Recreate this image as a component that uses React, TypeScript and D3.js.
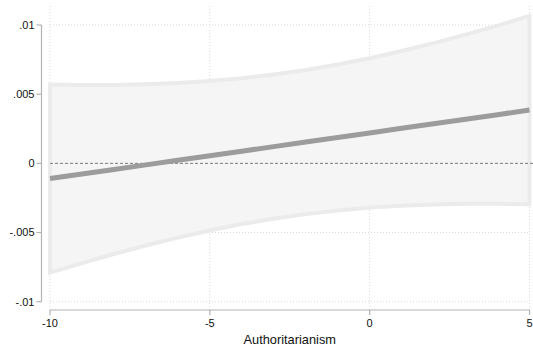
import React from "react";
import * as d3 from "d3";

const xValues = [-10, -9, -8, -7, -6, -5, -4, -3, -2, -1, 0, 1, 2, 3, 4, 5];
const fitted = [-0.0011, -0.00077, -0.00044, -0.00011, 0.00022, 0.00055, 0.00088, 0.00121, 0.00154, 0.00187, 0.0022, 0.00253, 0.00286, 0.00319, 0.00352, 0.00385];
const upper = [0.0057, 0.00567, 0.00567, 0.00572, 0.00581, 0.00595, 0.00615, 0.00642, 0.00675, 0.00714, 0.0076, 0.00812, 0.00869, 0.0093, 0.00996, 0.01065];
const lower = [-0.0079, -0.00721, -0.00655, -0.00594, -0.00537, -0.00485, -0.00439, -0.004, -0.00367, -0.0034, -0.0032, -0.00306, -0.00297, -0.00292, -0.00292, -0.00295];
const xTicks = [-10, -5, 0, 5];
const yTicks = [0.01, 0.005, 0, -0.005, -0.01];
const yTickLabels = [".01", ".005", "0", "-.005", "-.01"];
const xTitle = "Authoritarianism";

export default function App() {
  const W = 533, H = 351;
  const x = d3.scaleLinear().domain([-10, 5]).range([50, 529.5]);
  const y = d3.scaleLinear().domain([-0.01, 0.01]).range([301.7, 25]);
  const font = "'Liberation Sans', Arial, Helvetica, sans-serif";

  const areaPts = xValues.map((v, i) => ({ x: v, lo: lower[i], hi: upper[i] }));
  const area = d3.area<{ x: number; lo: number; hi: number }>()
    .x(d => x(d.x)).y0(d => y(d.lo)).y1(d => y(d.hi));
  const line = d3.line<number>().x((_, i) => x(xValues[i])).y(d => y(d));
  const axisY = 310;
  const axisX = 41.5;

  return (
    <svg width={W} height={H} style={{ position: "absolute", left: 0, top: 0, background: "#fff" }} fontFamily={font}>
      {yTicks.map((t, i) => (
        <line key={"gy" + i} x1={x(-10)} x2={530} y1={y(t)} y2={y(t)} stroke="#d9d9d9" strokeWidth={1} strokeDasharray="1,2" />
      ))}
      {xTicks.map((t, i) => (
        <line key={"gx" + i} x1={x(t)} x2={x(t)} y1={6} y2={axisY} stroke="#d9d9d9" strokeWidth={1} strokeDasharray="1,2" />
      ))}
      <path d={area(areaPts) || ""} fill="#f5f5f5" stroke="#ebebeb" strokeWidth={4} strokeLinejoin="miter" />
      <line x1={x(-10)} x2={533} y1={y(0)} y2={y(0)} stroke="#7a7a7a" strokeWidth={1} strokeDasharray="3,2" />
      <path d={line(fitted) || ""} fill="none" stroke="#9c9c9c" strokeWidth={5} />
      <line x1={axisX} x2={axisX} y1={y(0.01)} y2={y(-0.01)} stroke="#b3b3b3" strokeWidth={1.2} />
      {yTicks.map((t, i) => (
        <g key={"ty" + i}>
          <line x1={axisX - 5} x2={axisX} y1={y(t)} y2={y(t)} stroke="#b3b3b3" strokeWidth={1.2} />
          <text x={axisX - 7} y={y(t)} dy="0.35em" textAnchor="end" fontSize={11} fill="#111">{yTickLabels[i]}</text>
        </g>
      ))}
      <line x1={x(-10)} x2={x(5)} y1={axisY} y2={axisY} stroke="#b3b3b3" strokeWidth={1.2} />
      {xTicks.map((t, i) => (
        <g key={"tx" + i}>
          <line x1={x(t)} x2={x(t)} y1={axisY} y2={axisY + 5} stroke="#b3b3b3" strokeWidth={1.2} />
          <text x={x(t)} y={axisY + 17} textAnchor="middle" fontSize={11} fill="#111">{String(t)}</text>
        </g>
      ))}
      <text x={(x(-10) + x(5)) / 2} y={344} textAnchor="middle" fontSize={12.8} fill="#111">{xTitle}</text>
    </svg>
  );
}
